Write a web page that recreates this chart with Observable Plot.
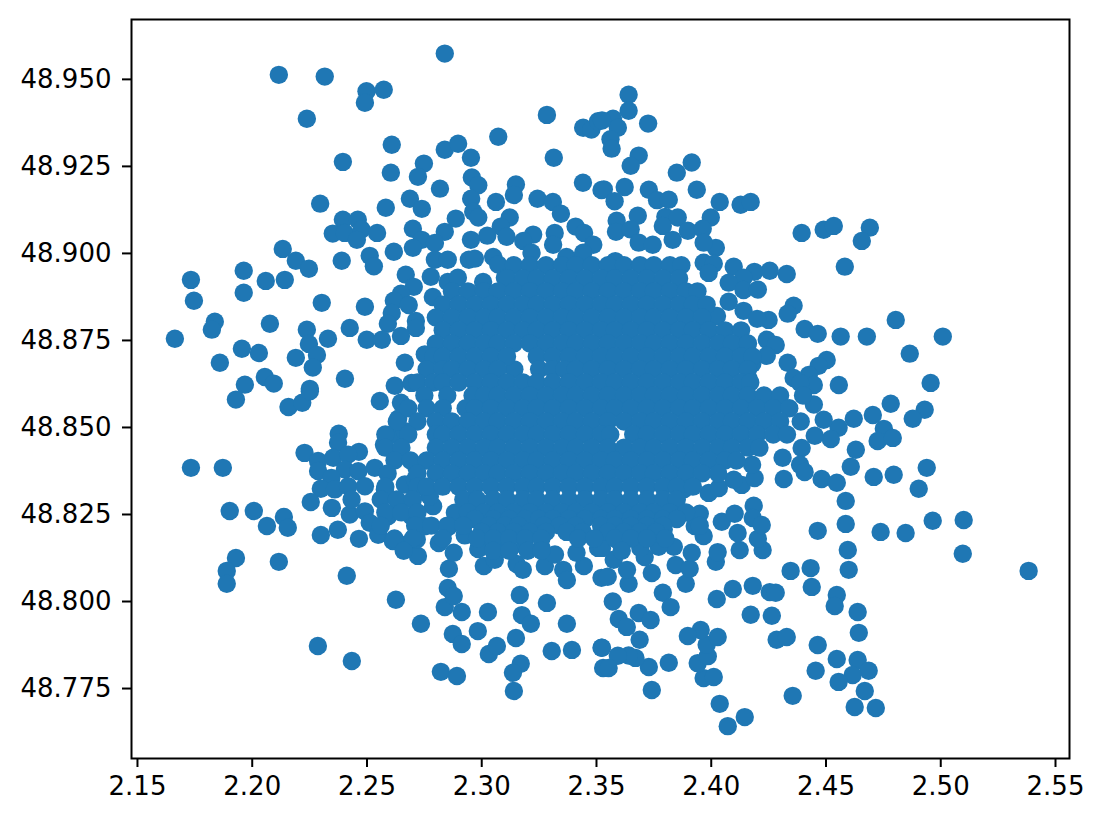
<!DOCTYPE html>
<html>
<head>
<meta charset="utf-8">
<script src="https://cdn.jsdelivr.net/npm/d3@7"></script>
<script src="https://cdn.jsdelivr.net/npm/@observablehq/plot@0.6"></script>
<style>html,body{margin:0;padding:0;background:#fff}svg{display:block}</style>
</head>
<body>
<div id="chart"></div>
<script>
const xTicks = [2.15,2.20,2.25,2.30,2.35,2.40,2.45,2.50,2.55];
const yTicks = [48.775,48.800,48.825,48.850,48.875,48.900,48.925,48.950];

const upperLeft = [[2.2116,48.9513],[2.2316,48.9508],[2.2498,48.9466],[2.2573,48.9470],[2.2491,48.9433],[2.2238,48.9387],[2.2839,48.9574],[2.3284,48.9398],[2.3072,48.9335],[2.3442,48.9361],[2.3478,48.9356],[2.3507,48.9380],[2.2608,48.9312],[2.2839,48.9298],[2.2897,48.9315],[2.2953,48.9275],[2.3314,48.9275],[2.2395,48.9263],[2.2748,48.9258],[2.2604,48.9232],[2.2722,48.9220],[2.2957,48.9218],[2.2985,48.9196],[2.3149,48.9198],[2.3441,48.9203],[2.2818,48.9186],[2.3140,48.9168],[2.3522,48.9182],[2.2687,48.9157],[2.2739,48.9128],[2.2954,48.9157],[2.3062,48.9148],[2.3243,48.9157],[2.3310,48.9148],[2.3345,48.9114],[2.2296,48.9143],[2.2582,48.9131],[2.2963,48.9120],[2.2985,48.9103],[2.3122,48.9103],[2.2395,48.9097],[2.2460,48.9097],[2.2887,48.9100],[2.2700,48.9071],[2.3083,48.9077],[2.3409,48.9077],[2.3446,48.9059],[2.2351,48.9057],[2.2403,48.9059],[2.2476,48.9069],[2.2456,48.9039],[2.2544,48.9059],[2.2839,48.9062],[2.3024,48.9051],[2.3108,48.9048],[2.3224,48.9054],[2.3318,48.9059],[2.3311,48.9025],[2.3486,48.9025],[2.2953,48.9039],[2.2739,48.9039],[2.2796,48.9030],[2.2700,48.9016],[2.3181,48.9036],[2.3217,48.9002],[2.2133,48.9013],[2.2190,48.8979],[2.2247,48.8956],[2.2390,48.8979],[2.2512,48.8993],[2.2530,48.8963],[2.2617,48.9005],[2.2796,48.8982],[2.2852,48.8982],[2.2944,48.8982],[2.2970,48.8985],[2.3050,48.8990],[2.3072,48.8968],[2.3369,48.8990],[2.3442,48.9002],[2.2669,48.8939],[2.2778,48.8933],[2.2852,48.8918],[2.2896,48.8930],[2.3006,48.8918],[2.3101,48.8930],[2.1963,48.8950],[2.1733,48.8924],[2.2059,48.8921],[2.2142,48.8924],[2.1963,48.8887],[2.1746,48.8864],[2.2704,48.8904],[2.2648,48.8884],[2.2787,48.8875],[2.2617,48.8864],[2.2682,48.8852],[2.2303,48.8858],[2.2491,48.8847],[2.2608,48.8829],[2.1837,48.8804],[2.1824,48.8781],[2.2077,48.8798],[2.2591,48.8798],[2.2713,48.8806],[2.2713,48.8786],[2.2238,48.8781],[2.2425,48.8786],[2.1663,48.8755],[2.2499,48.8752],[2.2565,48.8752],[2.2648,48.8763],[2.2330,48.8755],[2.2247,48.8740],[2.1955,48.8726],[2.2029,48.8714],[2.2282,48.8708],[2.2190,48.8700],[2.2264,48.8672],[2.1859,48.8686],[2.2665,48.8686],[2.2752,48.8710],[2.3142,48.8667],[2.2404,48.8640],[2.2055,48.8645],[2.2094,48.8626],[2.1968,48.8623],[2.2251,48.8611],[2.2621,48.8620],[2.2694,48.8628]];

const upperRight = [[2.3640,48.9456],[2.3640,48.9410],[2.3725,48.9373],[2.3572,48.9387],[2.3593,48.9361],[2.3524,48.9382],[2.3561,48.9328],[2.3566,48.9301],[2.3684,48.9281],[2.3649,48.9252],[2.3915,48.9261],[2.3850,48.9232],[2.3937,48.9183],[2.3623,48.9191],[2.3532,48.9184],[2.3579,48.9150],[2.3728,48.9183],[2.3764,48.9153],[2.3815,48.9154],[2.4037,48.9148],[2.4128,48.9140],[2.4172,48.9148],[2.3680,48.9108],[2.3588,48.9094],[2.3585,48.9062],[2.3649,48.9069],[2.3800,48.9105],[2.3854,48.9103],[2.3789,48.9079],[2.3998,48.9103],[2.3898,48.9065],[2.3963,48.9071],[2.3832,48.9039],[2.4394,48.9059],[2.4490,48.9068],[2.4534,48.9079],[2.4691,48.9074],[2.4656,48.9036],[2.3684,48.9031],[2.3745,48.9025],[2.4020,48.9016],[2.3967,48.9031],[2.4582,48.8962],[2.4098,48.8962],[2.3967,48.8973],[2.4011,48.8970],[2.3989,48.8944],[2.4188,48.8947],[2.4255,48.8950],[2.4329,48.8941],[2.4141,48.8930],[2.4076,48.8916],[2.4141,48.8895],[2.4203,48.8896],[2.3582,48.8978],[2.4076,48.8861],[2.4141,48.8835],[2.4359,48.8850],[2.4333,48.8827],[2.4804,48.8809],[2.4250,48.8809],[2.4200,48.8812],[2.4025,48.8820],[2.4407,48.8783],[2.4464,48.8769],[2.4564,48.8761],[2.4678,48.8761],[2.5009,48.8761],[2.4865,48.8712],[2.4242,48.8752],[2.4281,48.8737],[2.4141,48.8737],[2.4242,48.8706],[2.4179,48.8683],[2.4333,48.8686],[2.4503,48.8694],[2.4468,48.8677],[2.4425,48.8651],[2.4359,48.8642],[2.4556,48.8622],[2.4956,48.8628],[2.4447,48.8622],[2.4388,48.8628],[2.4163,48.8640]];

const lowerLeft = [[2.1929,48.8580],[2.2158,48.8559],[2.2218,48.8571],[2.2251,48.8604],[2.2556,48.8576],[2.2648,48.8571],[2.2377,48.8482],[2.2374,48.8456],[2.2228,48.8427],[2.2465,48.8430],[2.2574,48.8450],[2.2636,48.8525],[2.2287,48.8404],[2.2353,48.8413],[2.2418,48.8422],[2.2287,48.8375],[2.1733,48.8384],[2.1872,48.8384],[2.2404,48.8379],[2.2462,48.8374],[2.2534,48.8384],[2.2345,48.8355],[2.2299,48.8324],[2.2360,48.8322],[2.2418,48.8331],[2.2491,48.8331],[2.2578,48.8322],[2.2255,48.8286],[2.2347,48.8269],[2.2425,48.8250],[2.2433,48.8293],[2.2491,48.8259],[2.2512,48.8226],[2.2549,48.8192],[2.2613,48.8174],[2.2674,48.8164],[2.2722,48.8131],[2.2717,48.8178],[2.2465,48.8180],[2.2373,48.8206],[2.2299,48.8191],[2.1902,48.8260],[2.2007,48.8260],[2.2064,48.8217],[2.2138,48.8243],[2.2155,48.8212],[2.1929,48.8125],[2.1889,48.8088],[2.1889,48.8051],[2.2116,48.8114],[2.2412,48.8074],[2.2626,48.8005],[2.2286,48.7872],[2.2434,48.7829],[2.2735,48.7936],[2.2839,48.7984],[2.2852,48.8039],[2.2878,48.8016],[2.2913,48.7970],[2.3027,48.7970],[2.2983,48.7915],[2.2874,48.7907],[2.2913,48.7878],[2.3031,48.7849],[2.3066,48.7872],[2.3149,48.7895],[2.3371,48.7936],[2.3284,48.7996],[2.3166,48.8019],[2.3175,48.7961],[2.3214,48.7936],[2.3305,48.7858],[2.3393,48.7861],[2.3522,48.7867],[2.3170,48.7821],[2.3136,48.7795],[2.3140,48.7743],[2.2822,48.7798],[2.2892,48.7786],[2.3529,48.7809],[2.2857,48.8094],[2.2878,48.8140],[2.2813,48.8168],[2.2926,48.8190],[2.2985,48.8151],[2.3009,48.8102],[2.3057,48.8120],[2.3152,48.8108],[2.3179,48.8091],[2.3275,48.8102],[2.3355,48.8091],[2.3371,48.8062],[2.3445,48.8102],[2.3413,48.8140],[2.3522,48.8068],[2.3319,48.8135],[2.3507,48.8154],[2.3086,48.8159],[2.3188,48.8159],[2.3261,48.8154],[2.3028,48.8188],[2.2854,48.8214],[2.2883,48.8255],[2.2788,48.8274],[2.2774,48.8302],[2.2752,48.8216],[2.2708,48.8187],[2.2636,48.8269],[2.2592,48.8245],[2.2694,48.8245],[2.2665,48.8336],[2.2709,48.8350],[2.2716,48.8384],[2.2614,48.8480],[2.2621,48.8427],[2.2665,48.8489]];

const lowerRight = [[2.4782,48.8568],[2.4930,48.8551],[2.4878,48.8525],[2.4704,48.8536],[2.4621,48.8525],[2.4752,48.8496],[2.4725,48.8461],[2.4791,48.8470],[2.4555,48.8499],[2.4490,48.8522],[2.4447,48.8566],[2.4521,48.8467],[2.4630,48.8436],[2.4451,48.8476],[2.4394,48.8441],[2.4311,48.8413],[2.4387,48.8393],[2.4407,48.8372],[2.4608,48.8387],[2.4316,48.8352],[2.4481,48.8352],[2.4547,48.8341],[2.4708,48.8358],[2.4795,48.8364],[2.4939,48.8384],[2.4904,48.8324],[2.4586,48.8289],[2.4586,48.8223],[2.4464,48.8203],[2.4738,48.8200],[2.4847,48.8197],[2.4965,48.8232],[2.5100,48.8234],[2.5096,48.8137],[2.5383,48.8088],[2.4595,48.8148],[2.4599,48.8091],[2.4346,48.8088],[2.4433,48.8096],[2.4438,48.8042],[2.4547,48.8019],[2.4538,48.7987],[2.4638,48.7970],[2.4643,48.7910],[2.4464,48.7875],[2.4547,48.7835],[2.4638,48.7832],[2.4686,48.7801],[2.4616,48.7789],[2.4555,48.7769],[2.4455,48.7801],[2.4669,48.7743],[2.4355,48.7729],[2.4625,48.7697],[2.4717,48.7694],[2.4037,48.7706],[2.4146,48.7668],[2.4072,48.7642],[2.3741,48.7746],[2.3728,48.7812],[2.3815,48.7824],[2.3967,48.7780],[2.4011,48.7783],[2.3941,48.7823],[2.3985,48.7843],[2.3980,48.7876],[2.4028,48.7898],[2.3954,48.7918],[2.3898,48.7901],[2.3688,48.7890],[2.3670,48.7838],[2.3640,48.7845],[2.3593,48.7844],[2.3553,48.7809],[2.3524,48.7867],[2.4285,48.7890],[2.4329,48.7898],[2.4172,48.7962],[2.4264,48.7959],[2.4024,48.8007],[2.4094,48.8036],[2.4181,48.8045],[2.4255,48.8027],[2.4281,48.8025],[2.3789,48.8025],[2.3823,48.7984],[2.3571,48.8000],[2.3597,48.7950],[2.3632,48.7927],[2.3684,48.7967],[2.3736,48.7947],[2.3889,48.8051],[2.3640,48.8051],[2.3549,48.8071],[2.3741,48.8082],[2.3845,48.8105],[2.3906,48.8094],[2.4020,48.8114],[2.4124,48.8148],[2.4224,48.8148],[2.4203,48.8180],[2.4115,48.8197],[2.4046,48.8229],[2.4102,48.8252],[2.4185,48.8275],[2.4181,48.8240],[2.4220,48.8220],[2.3967,48.8188],[2.3928,48.8217],[2.3950,48.8252],[2.3880,48.8255],[2.4028,48.8142],[2.3915,48.8140],[2.3837,48.8157],[2.3771,48.8157],[2.3710,48.8128],[2.3575,48.8120],[2.3633,48.8091],[2.3691,48.8154],[2.3604,48.8168],[2.3524,48.8154],[2.3793,48.8207],[2.3880,48.8322],[2.3989,48.8312],[2.4033,48.8326],[2.4133,48.8335],[2.4189,48.8355],[2.4178,48.8393],[2.4098,48.8350]];

const coreLat = [48.8966,48.8928,48.8891,48.8853,48.8816,48.8779,48.8741,48.8704,48.8667,48.8629,48.8592,48.8555,48.8517,48.8480,48.8442,48.8405,48.8368,48.8330,48.8293,48.8256,48.8237,48.8218,48.8200,48.8181,48.8146];
const coreLon = [
[2.314,2.321,2.328,2.335,2.341,2.348,2.355,2.362,2.369,2.375,2.382,2.387],
[2.311,2.318,2.324,2.331,2.338,2.345,2.352,2.358,2.365,2.372,2.379,2.386],
[2.287,2.294,2.301,2.307,2.314,2.321,2.328,2.335,2.341,2.348,2.355,2.362,2.369,2.375,2.382,2.389,2.394],
[2.283,2.290,2.297,2.304,2.311,2.318,2.324,2.331,2.338,2.345,2.352,2.358,2.365,2.372,2.379,2.386,2.392,2.398],
[2.280,2.287,2.294,2.301,2.307,2.314,2.321,2.328,2.335,2.341,2.348,2.355,2.362,2.369,2.375,2.382,2.389,2.396],
[2.283,2.290,2.297,2.304,2.311,2.318,2.324,2.331,2.338,2.345,2.352,2.358,2.365,2.372,2.379,2.386,2.392,2.399,2.406,2.413],
[2.280,2.287,2.294,2.301,2.307,2.314,2.321,2.328,2.335,2.341,2.348,2.355,2.362,2.369,2.375,2.382,2.389,2.396,2.403,2.409,2.416],
[2.279,2.283,2.290,2.297,2.304,2.311,2.324,2.331,2.338,2.345,2.352,2.358,2.365,2.372,2.379,2.386,2.392,2.399,2.406,2.413,2.418],
[2.276,2.283,2.287,2.294,2.301,2.307,2.325,2.331,2.336,2.341,2.348,2.355,2.362,2.369,2.375,2.382,2.389,2.396,2.403,2.409,2.416],
[2.272,2.279,2.283,2.290,2.297,2.304,2.311,2.318,2.324,2.331,2.338,2.345,2.352,2.358,2.365,2.372,2.379,2.386,2.392,2.399,2.406,2.413,2.417],
[2.275,2.285,2.296,2.301,2.307,2.314,2.321,2.328,2.335,2.341,2.348,2.355,2.362,2.369,2.375,2.382,2.389,2.396,2.403,2.409,2.416,2.423,2.430,2.440],
[2.268,2.276,2.283,2.293,2.297,2.304,2.311,2.318,2.324,2.331,2.338,2.345,2.352,2.358,2.365,2.372,2.379,2.386,2.392,2.399,2.406,2.413,2.420,2.427,2.434],
[2.263,2.272,2.280,2.287,2.294,2.301,2.307,2.314,2.321,2.328,2.335,2.341,2.348,2.355,2.362,2.369,2.375,2.382,2.389,2.396,2.403,2.409,2.416,2.423,2.430,2.439],
[2.258,2.268,2.280,2.283,2.290,2.297,2.304,2.311,2.318,2.324,2.331,2.338,2.345,2.352,2.356,2.366,2.372,2.379,2.386,2.392,2.399,2.406,2.413,2.420,2.427,2.433],
[2.258,2.265,2.280,2.287,2.294,2.301,2.307,2.314,2.321,2.328,2.335,2.341,2.348,2.355,2.362,2.369,2.375,2.382,2.389,2.396,2.403,2.409,2.416,2.421],
[2.262,2.269,2.276,2.283,2.290,2.297,2.304,2.311,2.318,2.324,2.331,2.338,2.345,2.352,2.358,2.365,2.372,2.379,2.386,2.392,2.399,2.406,2.411],
[2.259,2.272,2.280,2.287,2.294,2.301,2.307,2.314,2.321,2.328,2.335,2.341,2.348,2.355,2.362,2.369,2.375,2.382,2.389,2.396,2.403],
[2.258,2.272,2.276,2.283,2.290,2.297,2.304,2.311,2.318,2.324,2.331,2.338,2.345,2.352,2.358,2.365,2.372,2.379,2.385,2.392],
[2.256,2.263,2.270,2.292,2.298,2.305,2.311,2.318,2.324,2.331,2.338,2.345,2.352,2.358,2.365,2.372,2.379,2.385],
[2.258,2.265,2.272,2.294,2.301,2.307,2.314,2.321,2.328,2.335,2.341,2.348,2.355,2.362,2.369,2.375,2.382,2.389],
[2.297,2.305,2.312,2.319,2.325,2.331,2.338,2.345,2.352,2.358,2.365,2.372,2.379,2.385],
[2.256,2.271,2.278,2.285,2.292,2.303,2.310,2.316,2.327,2.334,2.341,2.352,2.358,2.365,2.372,2.379,2.395],
[2.300,2.307,2.314,2.321,2.328,2.337,2.344,2.355,2.362,2.369,2.376],
[2.262,2.270,2.283,2.298,2.305,2.312,2.319,2.326,2.342,2.349,2.358,2.365,2.372,2.380],
[2.266,2.305,2.312,2.320,2.326,2.361]
];
const core = coreLat.flatMap((lat, i) => coreLon[i].map(lon => [lon, lat]));

const sites = [...upperLeft, ...upperRight, ...lowerLeft, ...lowerRight, ...core];
const ink = "#1f77b4";

const chart = Plot.plot({
  width: 1103,
  height: 822,
  marginLeft: 131,
  marginRight: 34,
  marginTop: 19,
  marginBottom: 64,
  style: {fontFamily: "'DejaVu Sans', sans-serif", background: "#fff", color: "#000"},
  x: {domain: [2.1474, 2.5561], label: null},
  y: {domain: [48.7549, 48.9672], label: null},
  marks: [
    Plot.dot(sites, {x: d => d[0], y: d => d[1], r: 9.2, fill: ink, stroke: "none"}),
    Plot.frame({stroke: "#000", strokeWidth: 2}),
    Plot.axisX({ticks: xTicks, tickFormat: d3.format(".2f"), fontSize: 26, tickSize: 9, tickPadding: 9, strokeWidth: 2, label: null}),
    Plot.axisY({ticks: yTicks, tickFormat: d3.format(".3f"), fontSize: 26, tickSize: 9, tickPadding: 11, strokeWidth: 2, label: null})
  ]
});
document.getElementById("chart").append(chart);
</script>
</body>
</html>
